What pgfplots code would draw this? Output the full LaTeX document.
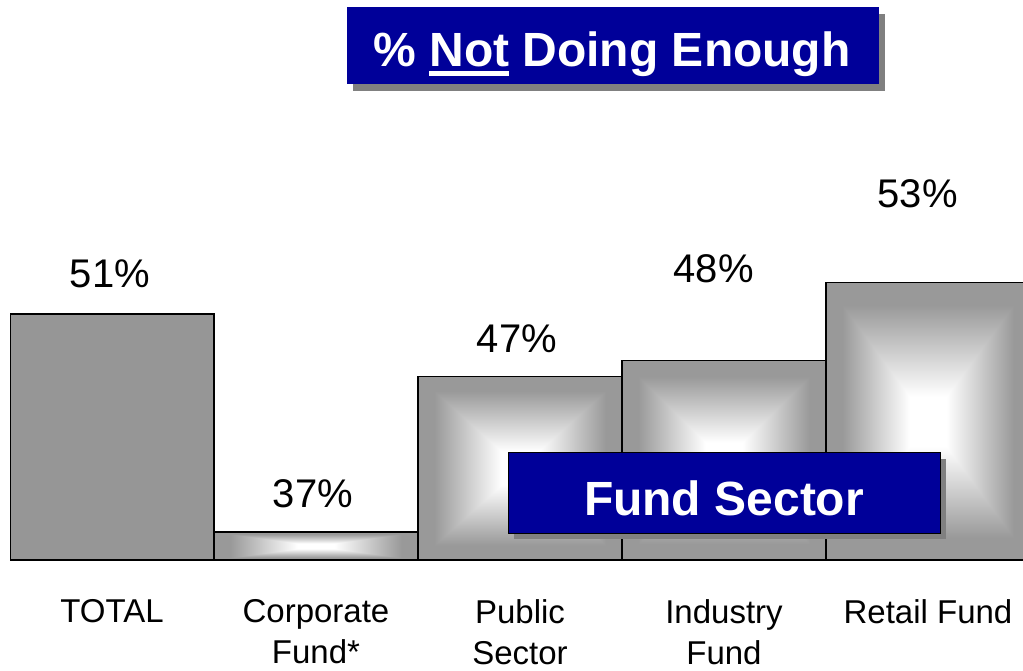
\documentclass[border=0pt]{standalone}
\usepackage{pgfplots}
\pgfplotsset{compat=1.18}
\usepackage{fontspec}
\setmainfont{Liberation Sans}
\definecolor{bargray}{RGB}{150,150,150}
\definecolor{boxblue}{RGB}{0,0,153}
\definecolor{shadowgray}{RGB}{128,128,128}
\pgfdeclarefunctionalshading{barshade}{\pgfpoint{-50bp}{-50bp}}{\pgfpoint{50bp}{50bp}}{}{
  abs exch abs
  2 copy lt {exch} if pop
  4.5 sub 16.5 div
  dup 0 lt {pop 0} if
  dup 1 gt {pop 1} if
  0.4 mul 1 exch sub
  dup dup
}
\newcommand\ulnot[1]{\setbox0=\hbox{#1}\rlap{\rule[-9pt]{\wd0}{4.5pt}}\box0\relax}
\begin{document}
\begin{tikzpicture}
\useasboundingbox (0,0) rectangle (1023pt,670pt);
\begin{axis}[
  at={(10pt,110pt)}, anchor=south west,
  scale only axis, width=1020pt, height=560pt,
  xmin=-0.5, xmax=4.5, ymin=35.2, ymax=71.17,
  y coord trafo/.code={\pgfmathparse{#1-35.2}},
  y coord inv trafo/.code={\pgfmathparse{#1+35.2}},
  ybar, bar width=1, bar shift=0pt,
  axis x line*=bottom, axis y line=none,
  x axis line style={black, line width=1.2pt, -},
  xtick={0,1,2,3,4},
  xticklabels={TOTAL,{Corporate\\Fund*},{Public\\Sector},{Industry\\Fund},Retail Fund},
  xtick style={draw=none},
  xticklabel style={font=\fontsize{33}{41}\selectfont, align=center, anchor=north, yshift=-32pt},
  ytick=\empty,
  axis on top,
]
\addplot[draw=black, line width=1.2pt, fill=bargray] coordinates {(0,51)};
\addplot[draw=black, line width=1.2pt, shading=barshade] coordinates {(1,37)};
\addplot[draw=black, line width=1.2pt, shading=barshade] coordinates {(2,47)};
\addplot[draw=black, line width=1.2pt, shading=barshade] coordinates {(3,48)};
\addplot[draw=black, line width=1.2pt, shading=barshade] coordinates {(4,53)};
\begin{scope}[every node/.style={font=\fontsize{40}{40}\selectfont, anchor=base}]
\node at (axis cs:-0.01,52.73) {51\%};
\node at (axis cs:0.985,38.60) {37\%};
\node at (axis cs:1.985,48.56) {47\%};
\node at (axis cs:2.95,53.05) {48\%};
\node at (axis cs:3.95,57.87) {53\%};
\end{scope}
\end{axis}
% title box
\fill[shadowgray] (353pt,579pt) rectangle (885pt,656pt);
\fill[boxblue] (347pt,586pt) rectangle (879pt,663pt);
\node[anchor=base, text=white, font=\bfseries\fontsize{48}{48}\selectfont, inner sep=0pt] at (612pt,603pt) {\% \ulnot{Not} Doing Enough};
% fund sector box
\fill[shadowgray] (514pt,131pt) rectangle (946pt,211pt);
\draw[fill=boxblue, draw=black, line width=1pt] (508pt,137pt) rectangle (940pt,217pt);
\node[anchor=base, text=white, font=\bfseries\fontsize{48}{48}\selectfont, inner sep=0pt] at (724pt,154.4pt) {Fund Sector};
\end{tikzpicture}
\end{document}
